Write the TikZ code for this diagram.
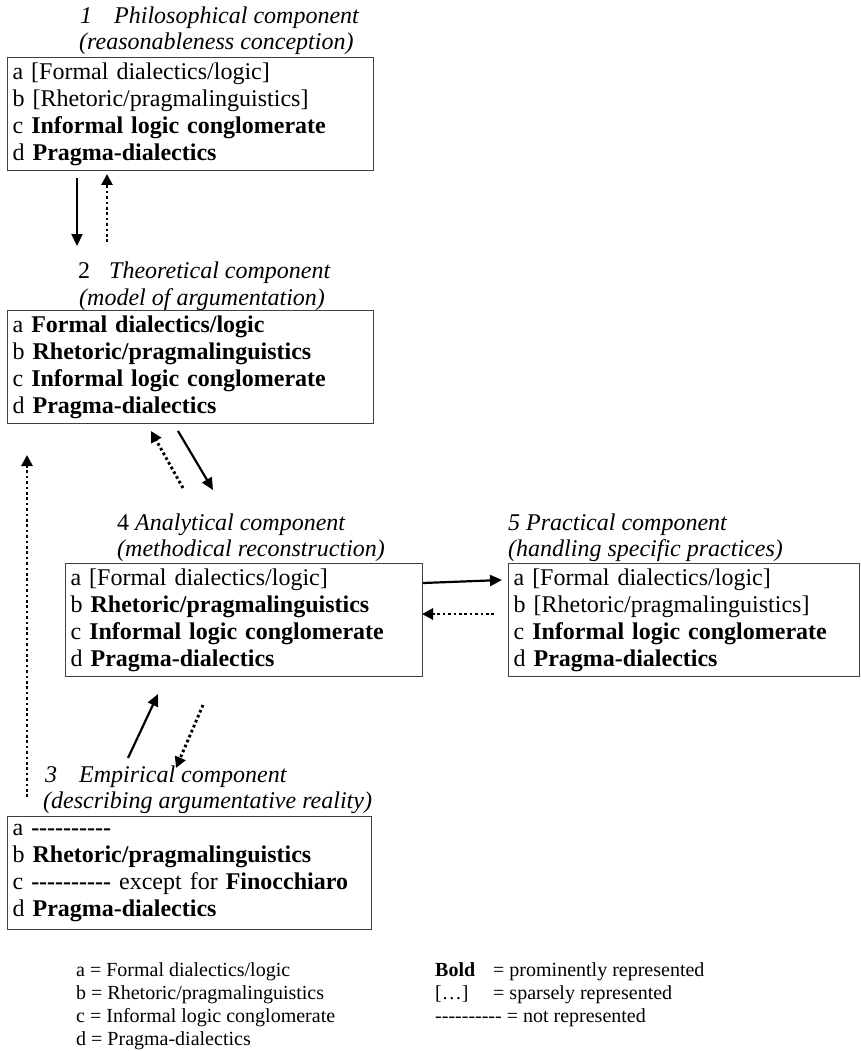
\documentclass[tikz,border=0pt]{standalone}
\usepackage{fontspec}
\setmainfont{Liberation Serif}
\usetikzlibrary{arrows.meta}
\newcommand\nodash{-{}-{}-{}-{}-{}-{}-{}-{}-{}-}
\tikzset{
  box/.style={draw=black!75, line width=1.2pt, anchor=north west, minimum height=113pt,
    inner xsep=5pt, inner ysep=0pt, align=left, font=\fontsize{24}{27}\selectfont},
  ttl/.style={anchor=base west, inner sep=0pt, font=\fontsize{24}{26}\selectfont\itshape},
  leg/.style={anchor=base west, inner sep=0pt, font=\fontsize{20}{22}\selectfont},
  sarrow/.style={line width=2.2pt, -{Triangle[length=12pt,width=11pt]}},
  darrow/.style={line width=2.9pt, dash pattern=on 2.7pt off 2.7pt, -{Triangle[length=11pt,width=11pt]}},
}
\begin{document}
\begin{tikzpicture}[x=1pt,y=1pt]
\path[use as bounding box] (0,0) rectangle (861,-1051);
% titles
\node[ttl] (t1a) at (80,-24) {1\hspace{22pt}Philosophical component};
\node[ttl] (t1b) at (79,-50) {(reasonableness conception)};
\node[ttl] (t2a) at (78,-278) {\upshape 2\hspace{19pt}\itshape Theoretical component};
\node[ttl] (t2b) at (79,-305) {(model of argumentation)};
\node[ttl] (t4a) at (117,-530) {\upshape 4 \itshape Analytical component};
\node[ttl] (t4b) at (117,-556) {(methodical reconstruction)};
\node[ttl] (t5a) at (508,-530) {5 Practical component};
\node[ttl] (t5b) at (508,-556) {(handling specific practices)};
\node[ttl] (t3a) at (45,-782) {3\hspace{22pt}Empirical component};
\node[ttl] (t3b) at (43,-808) {(describing argumentative reality)};
% boxes
\node[box, text width=356pt] (b1) at (7,-57) {a [Formal dialectics/logic]\\ b [Rhetoric/pragmalinguistics]\\ c \textbf{Informal logic conglomerate}\\ d \textbf{Pragma-dialectics}};
\node[box, text width=356pt] (b2) at (7,-310) {a \textbf{Formal dialectics/logic}\\ b \textbf{Rhetoric/pragmalinguistics}\\ c \textbf{Informal logic conglomerate}\\ d \textbf{Pragma-dialectics}};
\node[box, text width=347pt] (b4) at (65,-563) {a [Formal dialectics/logic]\\ b \textbf{Rhetoric/pragmalinguistics}\\ c \textbf{Informal logic conglomerate}\\ d \textbf{Pragma-dialectics}};
\node[box, text width=341pt] (b5) at (508,-563) {a [Formal dialectics/logic]\\ b [Rhetoric/pragmalinguistics]\\ c \textbf{Informal logic conglomerate}\\ d \textbf{Pragma-dialectics}};
\node[box, text width=354pt] (b3) at (7,-816) {a \textbf{\nodash}\\ b \textbf{Rhetoric/pragmalinguistics}\\ c \textbf{\nodash} except for \textbf{Finocchiaro}\\ d \textbf{Pragma-dialectics}};
% arrow end points
\coordinate (a12s) at (77,-178);
\coordinate (a12e) at (77,-246);
\coordinate (a21s) at (107,-242);
\coordinate (a21e) at (107,-174);
\coordinate (a24s) at (178,-431);
\coordinate (a24e) at (213,-490);
\coordinate (a42s) at (183,-488);
\coordinate (a42e) at (151,-431);
\coordinate (a45s) at (423,-583);
\coordinate (a45e) at (502,-580);
\coordinate (a54s) at (494,-614);
\coordinate (a54e) at (422,-614);
\coordinate (a34s) at (128,-758);
\coordinate (a34e) at (158,-694);
\coordinate (a43s) at (203,-705);
\coordinate (a43e) at (176,-768);
\coordinate (a32s) at (27,-797);
\coordinate (a32e) at (27,-455);
\draw[sarrow] (a12s) -- (a12e);
\draw[darrow] (a21s) -- (a21e);
\draw[sarrow] (a24s) -- (a24e);
\draw[darrow] (a42s) -- (a42e);
\draw[sarrow] (a45s) -- (a45e);
\draw[darrow] (a54s) -- (a54e);
\draw[sarrow] (a34s) -- (a34e);
\draw[darrow] (a43s) -- (a43e);
\draw[darrow] (a32s) -- (a32e);
% legend
\node[leg] (l1) at (76,-976) {a = Formal dialectics/logic};
\node[leg] (l2) at (76,-999) {b = Rhetoric/pragmalinguistics};
\node[leg] (l3) at (76,-1022) {c = Informal logic conglomerate};
\node[leg] (l4) at (76,-1045) {d = Pragma-dialectics};
\node[leg] (r1) at (435,-976) {\textbf{Bold}};
\node[leg] (r1b) at (493,-976) {= prominently represented};
\node[leg] (r2) at (435,-999) {[\ldots]};
\node[leg] (r2b) at (493,-999) {= sparsely represented};
\node[leg] (r3) at (435,-1022) {\nodash{} = not represented};
\end{tikzpicture}
\end{document}
